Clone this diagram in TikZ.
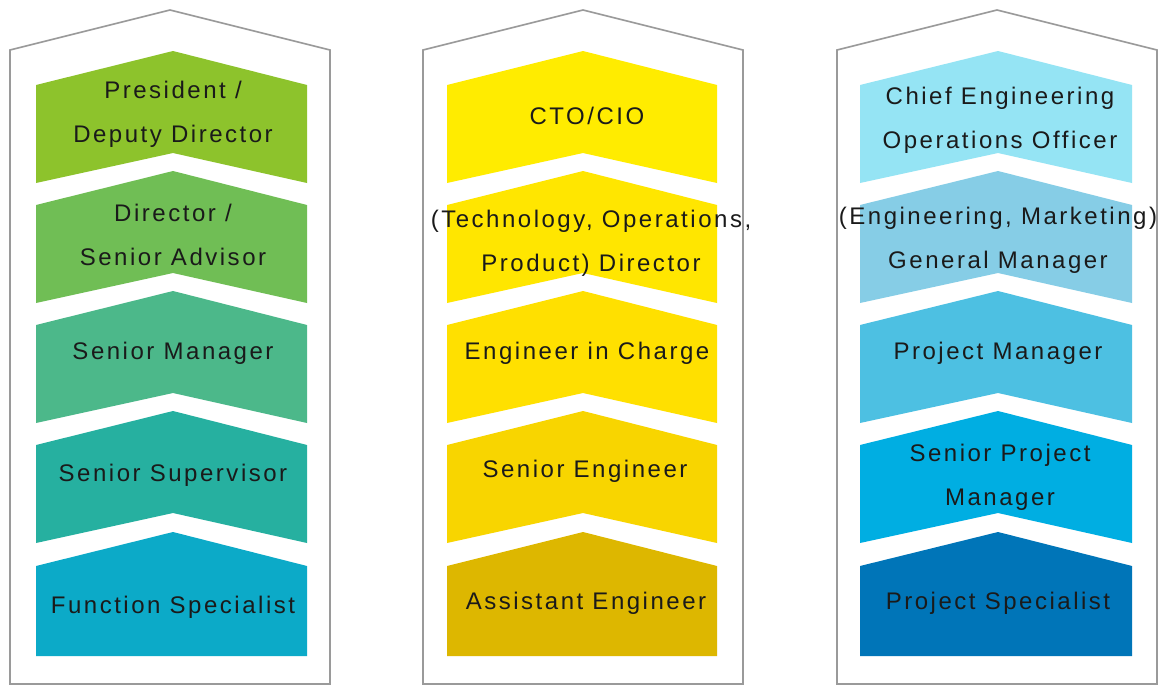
\documentclass[tikz,border=0pt]{standalone}
\usepackage{fontspec}
\newfontfamily\lblfont[LetterSpace=10.5]{Liberation Sans}
\definecolor{outl}{HTML}{9A9A9A}
\definecolor{txt}{HTML}{1A1A1A}
\definecolor{ga}{HTML}{8DC32C}
\definecolor{gb}{HTML}{70BE55}
\definecolor{gc}{HTML}{4CB88A}
\definecolor{gd}{HTML}{26B0A0}
\definecolor{ge}{HTML}{0CAAC8}
\definecolor{ya}{HTML}{FFEC00}
\definecolor{yb}{HTML}{FFE600}
\definecolor{yc}{HTML}{FFE000}
\definecolor{yd}{HTML}{F8D500}
\definecolor{ye}{HTML}{DDB700}
\definecolor{ba}{HTML}{95E4F4}
\definecolor{bb}{HTML}{86CDE6}
\definecolor{bc}{HTML}{4DC0E2}
\definecolor{bd}{HTML}{00AEE2}
\definecolor{be}{HTML}{0075B8}
\newcommand\mychev[5]{% L R C P colour
  \fill[#5] (#1,#4+34) -- (#3,#4) -- (#2,#4+34) -- (#2,#4+132) -- (#3,#4+102) -- (#1,#4+132) -- cycle;}
\newcommand\mylast[5]{%
  \fill[#5] (#1,#4+34) -- (#3,#4) -- (#2,#4+34) -- (#2,656) -- (#1,656) -- cycle;}
\newcommand\myhouse[4]{% L R C
  \draw[housestyle] (#1,684) -- (#1,50) -- (#3,10) -- (#2,50) -- (#2,684) -- cycle;}
\tikzset{
  housestyle/.style={draw=outl, line width=1.6pt, line join=miter},
  lbl/.style={font=\lblfont\fontsize{24}{44}\selectfont, text=txt, align=center, inner sep=0pt}
}
\begin{document}
\begin{tikzpicture}[x=1pt,y=-1pt]
\useasboundingbox (0,0) rectangle (1162,686);
\fill[white] (0,0) rectangle (1162,686);
% outlines
\myhouse{10}{330}{170}{}
\myhouse{423}{743}{583}{}
\myhouse{837}{1157}{997}{}
% column 1
\mychev{36}{307}{173}{51}{ga}
\mychev{36}{307}{173}{171}{gb}
\mychev{36}{307}{173}{291}{gc}
\mychev{36}{307}{173}{411}{gd}
\mylast{36}{307}{173}{532}{ge}
% column 2
\mychev{447}{717}{583}{51}{ya}
\mychev{447}{717}{583}{171}{yb}
\mychev{447}{717}{583}{291}{yc}
\mychev{447}{717}{583}{411}{yd}
\mylast{447}{717}{583}{532}{ye}
% column 3
\mychev{860}{1132}{998}{51}{ba}
\mychev{860}{1132}{998}{171}{bb}
\mychev{860}{1132}{998}{291}{bc}
\mychev{860}{1132}{998}{411}{bd}
\mylast{860}{1132}{998}{532}{be}
% labels column 1
\node[lbl] (a1) at (173,114) {President /\\Deputy Director};
\node[lbl] (a2) at (173,235) {Director /\\Senior Advisor};
\node[lbl] (a3) at (173,353) {Senior Manager};
\node[lbl] (a4) at (173,475) {Senior Supervisor};
\node[lbl] (a5) at (173,607) {Function Specialist};
% labels column 2
\node[lbl] (b1) at (587,116) {CTO/CIO};
\node[lbl] (b2) at (591,243) {(Technology, Operations,\\Product) Director};
\node[lbl] (b3) at (587,353) {Engineer in Charge};
\node[lbl] (b4) at (585,471) {Senior Engineer};
\node[lbl] (b5) at (586,603) {Assistant Engineer};
% labels column 3
\node[lbl] (c1) at (1000,120) {Chief Engineering\\Operations Officer};
\node[lbl] (c2) at (998,240) {(Engineering, Marketing)\\General Manager};
\node[lbl] (c3) at (998,353) {Project Manager};
\node[lbl] (c4) at (1000,477) {Senior Project\\Manager};
\node[lbl] (c5) at (998,603) {Project Specialist};
\end{tikzpicture}
\end{document}
